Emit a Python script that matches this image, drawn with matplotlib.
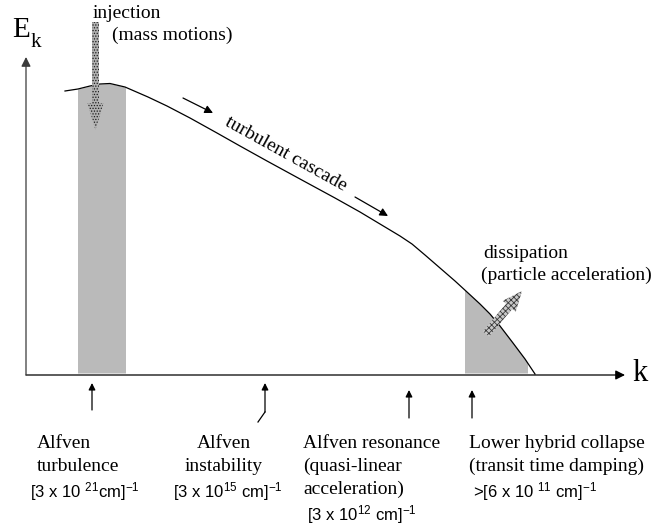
import numpy as np
import matplotlib
matplotlib.use("Agg")
import matplotlib.pyplot as plt
from matplotlib.patches import FancyArrow, Rectangle

plt.rcParams['mathtext.fontset'] = 'custom'
plt.rcParams['mathtext.rm'] = 'Liberation Sans'
plt.rcParams['mathtext.it'] = 'Liberation Sans'
plt.rcParams['mathtext.default'] = 'rm'
plt.rcParams['hatch.linewidth'] = 0.6

# ---- data (pixel-space schematic) ----
curve_k = [65, 78, 90, 100, 110, 125, 148, 167, 190, 217, 240, 267, 300, 335,
           360, 380, 400, 412, 425, 440, 455, 467, 480, 490, 500, 513, 525, 535]
curve_E = [91, 89, 86, 84, 83.5, 87, 97, 106, 118, 133, 146, 161, 179, 198,
           212, 224, 236, 244, 255, 268, 281, 292, 304, 314, 326, 343, 359, 374]
band_injection = (78, 125)
band_dissipation = (465, 527)
axis_y = 375
label_k = [92, 265, 409, 472]

serif = 'Liberation Serif'
sans = 'Liberation Sans'

fig = plt.figure(figsize=(6.7, 5.31), dpi=100)
ax = fig.add_axes([0, 0, 1, 1])
ax.set_xlim(0, 670)
ax.set_ylim(531, 0)
ax.axis('off')

# shaded bands under the curve
for (a, b) in (band_injection, band_dissipation):
    poly = ax.fill_between(curve_k, curve_E, axis_y - 2, color='#bababa', lw=0, zorder=1)
    poly.set_clip_path(Rectangle((a, 0), b - a, 531, transform=ax.transData))

# spectrum curve
ax.plot(curve_k, curve_E, color='black', lw=0.9, zorder=3)

# axes
ax.annotate('', xy=(625, axis_y), xytext=(26, axis_y),
            arrowprops=dict(arrowstyle='-|>', color='black', lw=0.9,
                            mutation_scale=14, shrinkA=0, shrinkB=0), zorder=4)
ax.annotate('', xy=(26, 57), xytext=(26, axis_y),
            arrowprops=dict(arrowstyle='-|>', color='#3a3a3a', lw=0.9,
                            mutation_scale=14, shrinkA=0, shrinkB=0), zorder=4)
ax.text(12, 37, 'E', fontfamily=serif, fontsize=21, va='baseline', ha='left')
ax.text(31, 47, 'k', fontfamily=serif, fontsize=15, va='baseline', ha='left')
ax.text(632, 381, 'k', fontfamily=serif, fontsize=22, va='baseline', ha='left')

# injection arrow (stippled)
ax.add_patch(FancyArrow(95.5, 22, 0, 108, width=7, head_width=16, head_length=27,
                        length_includes_head=True, facecolor='#b0b0b0',
                        edgecolor='#1a1a1a', lw=0, hatch='......', zorder=5))
ax.text(93, 18, 'injection', fontfamily=serif, fontsize=14, va='baseline', ha='left')
ax.text(112, 40, '(mass motions)', fontfamily=serif, fontsize=14, va='baseline', ha='left')

# dissipation arrow (stippled)
ax.add_patch(FancyArrow(486, 334, 36, -43, width=8, head_width=17, head_length=20,
                        length_includes_head=True, facecolor='#c8c8c8',
                        edgecolor='#3a3a3a', lw=0, hatch='xxxxxx', zorder=5))
ax.text(483, 258, 'dissipation', fontfamily=serif, fontsize=14, va='baseline', ha='left')
ax.text(481, 280, '(particle acceleration)', fontfamily=serif, fontsize=14,
        va='baseline', ha='left')

# turbulent cascade arrows and label
for (x0, y0, x1, y1) in [(183, 98, 213, 113), (355, 197, 388, 216)]:
    ax.annotate('', xy=(x1, y1), xytext=(x0, y0),
                arrowprops=dict(arrowstyle='-|>', color='black', lw=0.9,
                                mutation_scale=12, shrinkA=0, shrinkB=0))
ax.text(286, 154, 'turbulent cascade', fontfamily=serif, fontsize=14,
        rotation=-29, rotation_mode='anchor', ha='center', va='center')

# scale markers below the axis
arrow_tips = [383, 383, 390, 390]
arrow_tails = [410, 412, 418, 418]
for xk, yt, yb in zip(label_k, arrow_tips, arrow_tails):
    ax.annotate('', xy=(xk, yt), xytext=(xk, yb),
                arrowprops=dict(arrowstyle='-|>', color='black', lw=0.9,
                                mutation_scale=10, shrinkA=0, shrinkB=0))
ax.plot([258, label_k[1]], [422, 412], color='black', lw=0.9)

def lines(x, y0, texts, ha='left', dy=23):
    for i, t in enumerate(texts):
        ax.text(x, y0 + i * dy, t, fontfamily=serif, fontsize=14,
                va='baseline', ha=ha)

lines(37, 448, ['Alfven', 'turbulence'])
lines(224, 448, ['Alfven', 'instability'], ha='center')
lines(303, 448, ['Alfven resonance', '(quasi-linear', 'acceleration)'])
lines(469, 448, ['Lower hybrid collapse', '(transit time damping)'])

ax.text(30, 497, r'[3 x 10 $^{21}$cm]$^{-1}$', fontfamily=sans, fontsize=12,
        va='baseline', ha='left')
ax.text(173, 497, r'[3 x 10$^{15}$ cm]$^{-1}$', fontfamily=sans, fontsize=12,
        va='baseline', ha='left')
ax.text(307, 520, r'[3 x 10$^{12}$ cm]$^{-1}$', fontfamily=sans, fontsize=12,
        va='baseline', ha='left')
ax.text(473, 497, r'>[6 x 10 $^{11}$ cm]$^{-1}$', fontfamily=sans, fontsize=12,
        va='baseline', ha='left')

fig.savefig('out.png', dpi=100)
